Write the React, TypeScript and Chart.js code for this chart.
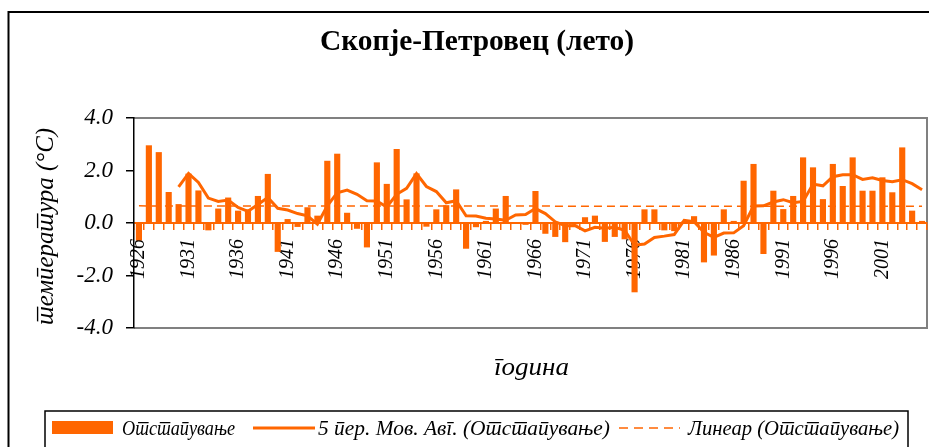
import React, { useEffect, useRef } from "react";
import { Chart, registerables } from "chart.js";

Chart.register(...registerables);

// Categories: summer seasons 1926–2005
const YEARS: string[] = Array.from({ length: 80 }, (_, i) => String(1926 + i));
const TICK_LABELS = ["1926", "1931", "1936", "1941", "1946", "1951", "1956", "1961", "1966", "1971", "1976", "1981", "1986", "1991", "1996", "2001"];
const Y_TICKS = [-4, -2, 0, 2, 4];

// Отстапување (°C)
const ANOMALY: number[] = [
  -0.66, 2.96, 2.70, 1.18, 0.72, 1.88, 1.24, -0.28, 0.55, 0.97,
  0.47, 0.52, 1.03, 1.87, -1.10, 0.15, -0.15, 0.60, 0.28, 2.37,
  2.64, 0.39, -0.22, -0.93, 2.31, 1.49, 2.82, 0.90, 1.89, -0.14,
  0.52, 0.68, 1.28, -0.98, -0.16, 0.08, 0.55, 1.03, 0.02, -0.07,
  1.22, -0.41, -0.53, -0.73, -0.05, 0.22, 0.28, -0.72, -0.53, -0.62,
  -2.64, 0.52, 0.52, -0.28, -0.31, 0.05, 0.26, -1.50, -1.24, 0.52,
  0.08, 1.61, 2.25, -1.18, 1.23, 0.53, 1.03, 2.50, 2.12, 0.91,
  2.25, 1.41, 2.50, 1.23, 1.23, 1.74, 1.17, 2.88, 0.47, 0.08,
];

const TITLE = "Скопје-Петровец (лето)";
const Y_TITLE = "температура (°C)";
const X_TITLE = "година";
const LEG_BAR = "Отстапување";
const LEG_MA = "5 пер. Мов. Авг. (Отстапување)";
const LEG_LIN = "Линеар (Отстапување)";

const ORANGE = "#FF6600";
const SERIF = "'Liberation Serif', 'Times New Roman', serif";

// Excel trendlines of the series: 5-period moving average and linear fit
function movingAverage(v: number[], n: number): (number | null)[] {
  return v.map((_, i) => {
    if (i < n - 1) return null;
    let s = 0;
    for (let k = i - n + 1; k <= i; k++) s += v[k];
    return s / n;
  });
}
function linearTrend(v: number[]): number[] {
  const n = v.length;
  let sx = 0, sy = 0, sxx = 0, sxy = 0;
  v.forEach((y, x) => { sx += x; sy += y; sxx += x * x; sxy += x * y; });
  const b = (n * sxy - sx * sy) / (n * sxx - sx * sx);
  const a = (sy - b * sx) / n;
  return v.map((_, x) => a + b * x);
}

function fitText(ctx: CanvasRenderingContext2D, text: string, x0: number, x1: number, y: number, font: string) {
  ctx.font = font;
  const w = ctx.measureText(text).width;
  const sx = (x1 - x0) / w;
  ctx.save();
  ctx.translate(x0, y);
  ctx.scale(sx, 1);
  ctx.textAlign = "left";
  ctx.fillText(text, 0, 0);
  ctx.restore();
}

const decorPlugin = {
  id: "decor",
  beforeDraw(chart: any) {
    const ctx: CanvasRenderingContext2D = chart.ctx;
    if ("lang" in ctx) (ctx as any).lang = "mk";
    const { left, right, top, bottom } = chart.chartArea;
    ctx.save();
    ctx.fillStyle = "#fff";
    ctx.fillRect(0, 0, chart.width, chart.height);
    // outer chart border
    ctx.strokeStyle = "#000";
    ctx.lineWidth = 2;
    ctx.strokeRect(8.5, 12, chart.width + 20, chart.height + 20);
    // plot area frame (grey)
    ctx.strokeStyle = "#808080";
    ctx.lineWidth = 2;
    ctx.beginPath();
    ctx.moveTo(left, top);
    ctx.lineTo(right, top);
    ctx.lineTo(right, bottom);
    ctx.lineTo(left, bottom);
    ctx.stroke();
    ctx.restore();
  },
  afterDraw(chart: any) {
    const ctx: CanvasRenderingContext2D = chart.ctx;
    ctx.save();
    ctx.fillStyle = "#000";
    ctx.textBaseline = "alphabetic";
    // title
    fitText(ctx, TITLE, 320, 634, 50, `bold 30px ${SERIF}`);
    // x title
    fitText(ctx, X_TITLE, 494, 569, 375, `italic 25px ${SERIF}`);
    // y title (rotated)
    ctx.save();
    ctx.translate(53, 325);
    ctx.rotate(-Math.PI / 2);
    fitText(ctx, Y_TITLE, 0, 197, 0, `italic 25px ${SERIF}`);
    ctx.restore();
    // legend box
    ctx.strokeStyle = "#000";
    ctx.lineWidth = 1.5;
    ctx.strokeRect(45, 411, 863, 60);
    ctx.fillStyle = ORANGE;
    ctx.fillRect(52, 421, 61, 13);
    ctx.strokeStyle = ORANGE;
    ctx.lineWidth = 3;
    ctx.beginPath();
    ctx.moveTo(253, 428);
    ctx.lineTo(315, 428);
    ctx.stroke();
    ctx.lineWidth = 1.5;
    ctx.setLineDash([9, 6]);
    ctx.beginPath();
    ctx.moveTo(619, 428);
    ctx.lineTo(680, 428);
    ctx.stroke();
    ctx.setLineDash([]);
    ctx.fillStyle = "#000";
    const lf = `italic 21px ${SERIF}`;
    fitText(ctx, LEG_BAR, 122, 235, 435, lf);
    fitText(ctx, LEG_MA, 318, 610, 435, lf);
    fitText(ctx, LEG_LIN, 688, 899, 435, lf);
    ctx.restore();
  },
};

export default function App() {
  const ref = useRef<HTMLCanvasElement>(null);
  useEffect(() => {
    document.body.style.margin = "0";
    const canvas = ref.current!;
    const chart = new Chart(canvas, {
      type: "bar",
      data: {
        labels: YEARS,
        datasets: [
          {
            type: "line",
            label: LEG_MA,
            data: movingAverage(ANOMALY, 5),
            borderColor: ORANGE,
            borderWidth: 3,
            pointRadius: 0,
            tension: 0,
            fill: false,
            order: 1,
          } as any,
          {
            type: "line",
            label: LEG_LIN,
            data: linearTrend(ANOMALY),
            borderColor: ORANGE,
            borderWidth: 1.5,
            borderDash: [8, 5],
            pointRadius: 0,
            tension: 0,
            fill: false,
            order: 2,
          } as any,
          {
            type: "bar",
            label: LEG_BAR,
            data: ANOMALY,
            backgroundColor: ORANGE,
            borderWidth: 0,
            categoryPercentage: 1,
            barPercentage: 0.62,
            order: 3,
          } as any,
        ],
      },
      options: {
        responsive: false,
        animation: false,
        devicePixelRatio: 1,
        layout: { padding: { left: 0, right: 2, top: 118, bottom: 119 } },
        plugins: {
          legend: { display: false },
          title: { display: false },
          tooltip: { enabled: false },
        },
        scales: {
          x: {
            type: "category",
            position: { y: 0 } as any,
            offset: true,
            afterFit: (s: any) => { s.paddingLeft = 0; s.paddingRight = 0; },
            grid: {
              display: true,
              drawOnChartArea: false,
              drawTicks: true,
              tickLength: 6,
              color: ORANGE,
              lineWidth: 1.5,
              offset: true,
            },
            border: { display: true, color: ORANGE, width: 2 },
            ticks: {
              autoSkip: false,
              maxRotation: 90,
              minRotation: 90,
              padding: 10,
              color: "#000",
              font: { family: SERIF, style: "italic", size: 20 },
              callback: (_v: any, i: number) => (TICK_LABELS.includes(YEARS[i]) ? YEARS[i] : ""),
            },
          },
          y: {
            min: Y_TICKS[0],
            max: Y_TICKS[Y_TICKS.length - 1],
            afterFit: (s: any) => { s.width = 134; },
            grid: { drawOnChartArea: false, drawTicks: true, tickLength: 8, color: "#000", lineWidth: 1.5 },
            border: { display: true, color: "#000", width: 1.5 },
            ticks: {
              stepSize: 2,
              padding: 13,
              color: "#000",
              font: { family: SERIF, style: "italic", size: 23 },
              callback: (v: any) => Number(v).toFixed(1),
            },
          },
        },
      } as any,
      plugins: [decorPlugin],
    });
    return () => chart.destroy();
  }, []);
  return (
    <div lang="mk" style={{ position: "absolute", left: 0, top: 0, width: 929, height: 447, background: "#fff" }}>
      <canvas ref={ref} lang="mk" width={929} height={447} style={{ display: "block", width: 929, height: 447 }} />
    </div>
  );
}
